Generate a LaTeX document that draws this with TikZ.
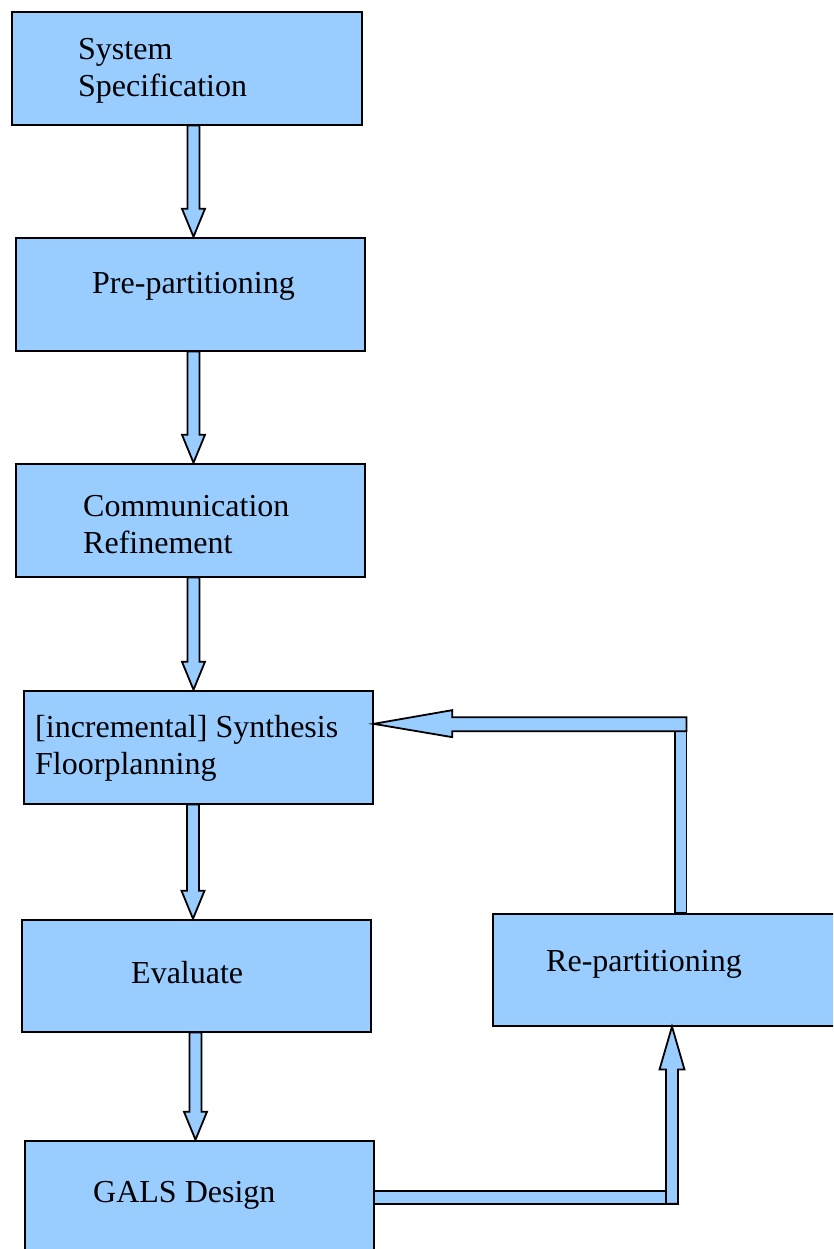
\documentclass[tikz,border=0pt]{standalone}
\usepackage{fontspec}
\setmainfont{Liberation Serif}
\usetikzlibrary{calc}
\definecolor{boxblue}{RGB}{153,204,255}
\tikzset{
  box/.style={draw=black, fill=boxblue, line width=1.8pt, anchor=north west, inner sep=0pt},
  txt/.style={anchor=base west, inner sep=0pt, align=left, font=\fontsize{32}{37}\selectfont},
  blockarrow/.style={draw=black, fill=boxblue, line width=1.8pt, line join=miter}
}
\newcommand\downblock[3]{%
  \path[blockarrow] let \p1=(#1.south), \p2=(#2.north) in
   (#3pt-6pt,\y1) -- (#3pt-6pt,\y2+28pt) -- (#3pt-11.5pt,\y2+28pt) -- (#3pt,\y2)
   -- (#3pt+11.5pt,\y2+28pt) -- (#3pt+6pt,\y2+28pt) -- (#3pt+6pt,\y1) -- cycle;}
\begin{document}
\begin{tikzpicture}[x=1pt,y=-1pt]
\useasboundingbox (0,0) rectangle (833,1249);
\clip (0,0) rectangle (833,1249);
% boxes
\node[box, minimum width=350pt, minimum height=113pt] (spec) at (10.75,10.75) {};
\node[box, minimum width=349pt, minimum height=113pt] (prep) at (14.75,236.75) {};
\node[box, minimum width=349pt, minimum height=113pt] (comm) at (14.75,462.75) {};
\node[box, minimum width=349pt, minimum height=113pt] (synth) at (22.75,689.75) {};
\node[box, minimum width=349pt, minimum height=112pt] (eval) at (20.75,918.75) {};
\node[box, minimum width=349pt, minimum height=113pt] (gals) at (23.75,1139.75) {};
\node[box, minimum width=360pt, minimum height=112pt] (rep) at (491.75,912.75) {};
% down arrows
\downblock{spec}{prep}{193.5}
\downblock{prep}{comm}{193.5}
\downblock{comm}{synth}{193.5}
\downblock{synth}{eval}{193}
\downblock{eval}{gals}{195.5}
% loop: GALS -> Re-partitioning
\path[blockarrow] let \p1=(gals.east) in
  (\x1,\y1+6.5pt) rectangle (678.5pt,\y1-6.5pt);
\path[blockarrow] let \p1=(gals.east), \p2=(rep.south) in
  (666pt,\y1-6.5pt) -- (666pt,\y2-43pt) -- (659.5pt,\y2-43pt) -- (672pt,\y2)
  -- (684.5pt,\y2-43pt) -- (678pt,\y2-43pt) -- (678pt,\y1-6.5pt) -- cycle;
% loop: Re-partitioning -> Synthesis
\path[blockarrow] let \p1=(rep.north), \p2=(synth.east) in
  (675pt,\y1) rectangle (686.5pt,\y2+16pt);
\path[blockarrow] let \p2=(synth.east) in
  (686.5pt,\y2+30pt) -- (\x2+78.7pt,\y2+30pt) -- (\x2+78.7pt,\y2+37pt) -- (\x2,\y2+23.3pt)
  -- (\x2+78.7pt,\y2+10pt) -- (\x2+78.7pt,\y2+16pt) -- (686.5pt,\y2+16pt) -- cycle;
% texts
\node[txt] (spect) at (78,97) {System\\Specification};
\node[txt] (prept) at (92,293) {Pre-partitioning};
\node[txt] (commt) at (83,553) {Communication\\Refinement};
\node[txt] (syntht) at (35,774) {[incremental] Synthesis\\Floorplanning};
\node[txt] (evalt) at (131,983) {Evaluate};
\node[txt] (galst) at (93,1202) {GALS Design};
\node[txt] (rept) at (546,971) {Re-partitioning};
\end{tikzpicture}
\end{document}
